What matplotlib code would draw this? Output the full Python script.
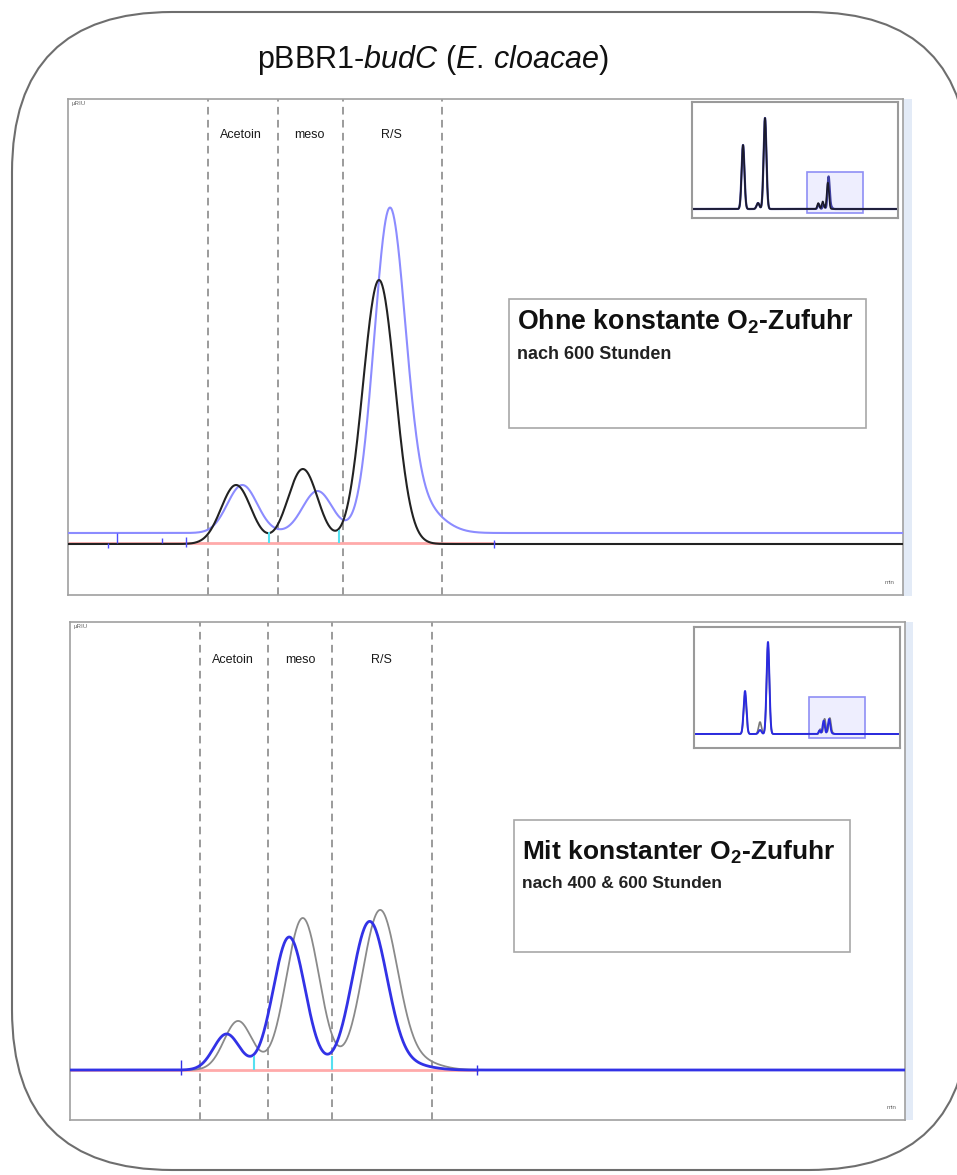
import numpy as np
import matplotlib
matplotlib.use("Agg")
import matplotlib.pyplot as plt
from matplotlib.patches import FancyBboxPatch, Rectangle

plt.rcParams['font.family'] = ['Liberation Sans', 'DejaVu Sans']
plt.rcParams['mathtext.fontset'] = 'custom'
plt.rcParams['mathtext.rm'] = 'Liberation Sans'
plt.rcParams['mathtext.it'] = 'Liberation Sans:italic'
plt.rcParams['mathtext.bf'] = 'Liberation Sans:bold'

# ---- data: retention time [min], peak height [uRIU], peak width (sigma) [min]
fractions = ['Acetoin', 'meso', 'R/S']

# top run: without constant O2 supply
top_cuts = [18.34, 19.01, 19.63, 20.58]
top_label_t = [18.66, 19.31, 20.10]
top_black_t = [18.61, 19.25, 19.98]
top_black_h = [59, 75, 264]
top_black_w = [0.143, 0.143, 0.153]
top_black_base = -1
top_blue_t = [18.67, 19.39, 20.08, 20.35]
top_blue_h = [48, 42, 313, 28]
top_blue_w = [0.143, 0.143, 0.148, 0.21]
top_blue_base = 10
top_marks_t = [17.38, 17.47, 17.90, 18.13, 21.08]
top_marks_lo = [-5, 0, 0, -4, -5]
top_marks_hi = [0, 10, 5, 6, 3]
top_split_t = [18.93, 19.60]
top_split_h = [11, 13]

# bottom run: with constant O2 supply
bot_cuts = [18.25, 18.90, 19.51, 20.47]
bot_label_t = [18.56, 19.21, 19.98]
bot_blue_t = [18.50, 19.10, 19.87, 20.26]
bot_blue_h = [36, 133, 148, 5]
bot_blue_w = [0.125, 0.153, 0.168, 0.19]
bot_grey_t = [18.61, 19.23, 19.97, 20.35]
bot_grey_h = [49, 152, 159, 8]
bot_grey_w = [0.134, 0.158, 0.168, 0.19]
bot_marks_t = [18.06, 20.90]
bot_marks_lo = [-5, -5]
bot_marks_hi = [10, 5]
bot_split_t = [18.76, 19.51]
bot_split_h = [14, 14]

# overview insets (whole run), early peaks
top_inset_t = [7.86, 10.0, 11.0]
top_inset_h = [640, 60, 910]
bot_inset_t = [7.86, 10.0, 11.14]
bot_inset_blue_h = [430, 40, 920]
bot_inset_grey_h = [400, 120, 880]
inset_w = 0.2

W, H = 957, 1175


def trace(t, pos, hgt, wid, base=0.0):
    y = np.full_like(t, base, dtype=float)
    for p, h, w in zip(pos, hgt, wid):
        y += h * np.exp(-0.5 * ((t - p) / w) ** 2)
    return y


def px_axes(l, t, r, b, z=1):
    ax = fig.add_axes([l / W, 1 - b / H, (r - l) / W, (b - t) / H], zorder=z)
    ax.set_xticks([])
    ax.set_yticks([])
    return ax


fig = plt.figure(figsize=(W / 100, H / 100), dpi=100)

# background with rounded frame and title
bg = fig.add_axes([0, 0, 1, 1], zorder=0)
bg.set_xlim(0, W)
bg.set_ylim(H, 0)
bg.axis('off')
bg.add_patch(FancyBboxPatch((12, 12), 957, 1158, boxstyle='round,pad=0,rounding_size=160',
                            fc='white', ec='#6e6e6e', lw=1.5, clip_on=False))
bg.text(433, 68, r'pBBR1-$\mathit{budC}$ ($\mathit{E.\,cloacae}$)', fontsize=22,
        ha='center', va='baseline', color='#111111')
bg.add_patch(Rectangle((903, 99), 9, 497, fc='#e3ebf7', ec='none'))
bg.add_patch(Rectangle((905, 622), 8, 498, fc='#e3ebf7', ec='none'))

t = np.linspace(17, 25, 1600)
ti = np.linspace(0.57, 30, 3000)


def main_panel(ax, ylim, cuts, label_t, label_y):
    ax.set_xlim(17, 25)
    ax.set_ylim(*ylim)
    for s in ax.spines.values():
        s.set_color('#a0a0a0')
        s.set_linewidth(1.2)
    for c in cuts:
        ax.axvline(c, color='#808080', lw=1.1, ls=(0, (5, 3.5)), zorder=1)
    for name, x in zip(fractions, label_t):
        ax.text(x, label_y, name, fontsize=9, ha='center', va='center', color='#1a1a1a')
    ax.text(0.004, 0.995, 'µRIU', transform=ax.transAxes, fontsize=4.5,
            ha='left', va='top', color='#666666')
    ax.text(0.99, 0.02, 'min', transform=ax.transAxes, fontsize=4.5,
            ha='right', va='bottom', color='#666666')


# ---- top panel
ax1 = px_axes(68, 99, 903, 595)
main_panel(ax1, (-52, 444), top_cuts, top_label_t, 408)
ax1.plot([17, 21.08], [0, 0], color='#ffaaaa', lw=2, zorder=2)
ax1.plot(t, trace(t, top_blue_t, top_blue_h, top_blue_w, top_blue_base),
         color='#8c8cff', lw=1.5, zorder=3)
ax1.plot(t, trace(t, top_black_t, top_black_h, top_black_w, top_black_base),
         color='#222222', lw=1.5, zorder=4)
ax1.vlines(top_marks_t, top_marks_lo, top_marks_hi, color='#4d4dff', lw=1, zorder=5)
ax1.vlines(top_split_t, 0, top_split_h, color='#55e0f0', lw=1.5, zorder=5)

# ---- bottom panel
ax2 = px_axes(70, 622, 905, 1120)
main_panel(ax2, (-50, 448), bot_cuts, bot_label_t, 410)
ax2.plot([17, 20.9], [0, 0], color='#ffaaaa', lw=2, zorder=2)
ax2.plot(t, trace(t, bot_grey_t, bot_grey_h, bot_grey_w),
         color='#8a8a8a', lw=1.3, zorder=3)
ax2.plot(t, trace(t, bot_blue_t, bot_blue_h, bot_blue_w),
         color='#3232e6', lw=2, zorder=4)
ax2.vlines(bot_marks_t, bot_marks_lo, bot_marks_hi, color='#3232e6', lw=1, zorder=5)
ax2.vlines(bot_split_t, 0, bot_split_h, color='#55e0f0', lw=1.5, zorder=5)


def inset(box, ylim, series):
    ax = px_axes(*box, z=3)
    ax.set_xlim(0.57, 30)
    ax.set_ylim(*ylim)
    for s in ax.spines.values():
        s.set_color('#9a9a9a')
        s.set_linewidth(1.5)
    ax.add_patch(Rectangle((17, -40), 8, 410, fc='#eeeefe', ec='#8f8ff5', lw=1.2, zorder=1))
    for pos, hgt, wid, col, lw in series:
        ax.plot(ti, trace(ti, pos, hgt, wid), color=col, lw=lw, zorder=2)


inset((692, 102, 898, 218), (-90, 1070), [
    (top_inset_t + top_blue_t, top_inset_h + top_blue_h, [inset_w] * 3 + top_blue_w, '#4040a0', 1.6),
    (top_inset_t + top_black_t, top_inset_h + top_black_h, [inset_w] * 3 + top_black_w, '#1a1a2a', 1.2),
])
inset((694, 627, 900, 748), (-140, 1070), [
    (bot_inset_t + bot_grey_t, bot_inset_grey_h + bot_grey_h, [inset_w] * 3 + bot_grey_w, '#777777', 1.2),
    (bot_inset_t + bot_blue_t, bot_inset_blue_h + bot_blue_h, [inset_w] * 3 + bot_blue_w, '#2a2ae0', 1.4),
])

# ---- text boxes on top
ov = fig.add_axes([0, 0, 1, 1], zorder=5)
ov.set_xlim(0, W)
ov.set_ylim(H, 0)
ov.axis('off')
ov.patch.set_alpha(0)
ov.add_patch(Rectangle((509, 299), 357, 129, fc='white', ec='#a8a8a8', lw=1.2))
ov.text(517, 330, r'Ohne konstante O$_\mathbf{2}$-Zufuhr', fontsize=19.3, fontweight='bold',
        ha='left', va='baseline', color='#111111')
ov.text(517, 359, 'nach 600 Stunden', fontsize=13, fontweight='bold',
        ha='left', va='baseline', color='#222222')
ov.add_patch(Rectangle((514, 820), 336, 132, fc='white', ec='#a8a8a8', lw=1.2))
ov.text(522, 860, r'Mit konstanter O$_\mathbf{2}$-Zufuhr', fontsize=19, fontweight='bold',
        ha='left', va='baseline', color='#111111')
ov.text(522, 888, 'nach 400 & 600 Stunden', fontsize=12.5, fontweight='bold',
        ha='left', va='baseline', color='#222222')

fig.savefig('out.png', dpi=100)
